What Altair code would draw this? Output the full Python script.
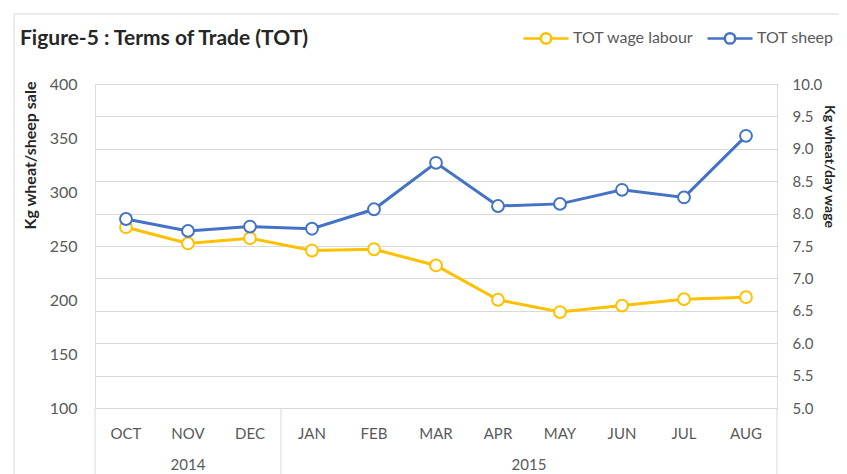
import altair as alt
import pandas as pd
import math

# ---- data ----
months = ["OCT", "NOV", "DEC", "JAN", "FEB", "MAR", "APR", "MAY", "JUN", "JUL", "AUG"]
years = ["2014", "2014", "2014", "2015", "2015", "2015", "2015", "2015", "2015", "2015", "2015"]
sheep_values = [275, 264, 268, 266, 284, 327, 287, 289, 302, 295, 352]
wage_values = [7.79, 7.54, 7.62, 7.43, 7.45, 7.20, 6.67, 6.48, 6.58, 6.68, 6.71]
series_names = ["TOT wage labour", "TOT sheep"]
series_colors = ["#FFC000", "#4472C4"]
left_ticks = [100, 150, 200, 250, 300, 350, 400]
right_ticks = [5.0, 5.5, 6.0, 6.5, 7.0, 7.5, 8.0, 8.5, 9.0, 9.5, 10.0]
title_text = "Figure-5 : Terms of Trade (TOT)"

W, H = 682, 324
FONT = "Lato"
GRID = "#d9d9d9"
LABEL = "#595959"

sheep_df = pd.DataFrame({"month": months, "value": sheep_values, "series": series_names[1]})
wage_df = pd.DataFrame({"month": months, "value": wage_values, "series": series_names[0]})

x_axis = alt.Axis(title=None, labelAngle=0, ticks=False, domain=True, domainColor=GRID,
                  domainWidth=1, labelPadding=18, labelFontSize=15, labelColor=LABEL,
                  labelFont=FONT, grid=False)
x_scale = alt.Scale(domain=months, paddingInner=0, paddingOuter=0)


def xenc(bp=None):
    if bp is None:
        return alt.X("month:N", sort=months, scale=x_scale, axis=x_axis)
    return alt.X("month:N", sort=months, scale=x_scale, axis=x_axis, bandPosition=bp)


LEG_PATH = "M-1,0L-0.23,0M0.23,0L1,0M-0.23,0A0.23,0.23,0,1,1,0.23,0A0.23,0.23,0,1,1,-0.23,0"
color = alt.Color("series:N", scale=alt.Scale(domain=series_names, range=series_colors),
                  legend=alt.Legend(title=None, orient="none", legendX=427, legendY=-70,
                                    direction="horizontal", symbolType=LEG_PATH, symbolSize=2025,
                                    symbolStrokeWidth=2.5, labelFontSize=16, labelColor=LABEL,
                                    labelFont=FONT, labelOffset=3, columnPadding=8,
                                    symbolFillColor="white"))

left_y = alt.Y("value:Q", scale=alt.Scale(domain=[100, 400], nice=False, zero=False),
               axis=alt.Axis(orient="left", values=left_ticks, grid=False, domain=False, ticks=False,
                             labelPadding=18, labelFontSize=16, labelColor=LABEL, labelFont=FONT,
                             title="Kg wheat/sheep sale", titleFontSize=16, titleFont=FONT,
                             titleFontWeight="bold", titleColor="#262626", titleX=-65, titleY=71,
                             titleAngle=270, titleAlign="center", titleBaseline="middle"))
right_y = alt.Y("value:Q", scale=alt.Scale(domain=[5, 10], nice=False, zero=False),
                axis=alt.Axis(orient="right", values=right_ticks, format=".1f", grid=True,
                              gridColor=GRID, gridWidth=1, domain=False, ticks=False,
                              labelPadding=15, labelFontSize=15, labelColor=LABEL, labelFont=FONT,
                              title="Kg wheat/day wage", titleFontSize=14, titleFont=FONT,
                              titleFontWeight="bold", titleColor="#262626", titleX=51, titleY=82,
                              titleAngle=90, titleAlign="center", titleBaseline="middle"))


def series_layer(df, y):
    base = alt.Chart(df)
    line = base.mark_line(strokeWidth=3).encode(x=xenc(), y=y, color=color)
    pts = base.mark_point(shape="circle", filled=False, fill="white", size=140, strokeWidth=2,
                          opacity=1).encode(x=xenc(), y=y, color=color)
    return alt.layer(line, pts)


wage_layer = series_layer(wage_df, right_y)
sheep_layer = series_layer(sheep_df, left_y)

# category box separators (group boundaries)
group_edges = []
for i, m in enumerate(months):
    if i == 0 or years[i] != years[i - 1]:
        group_edges.append({"month": m, "bp": 0.0})
group_edges.append({"month": months[-1], "bp": 1.0})

sep_layers = []
for e in group_edges:
    sep_layers.append(
        alt.Chart(pd.DataFrame([{"month": e["month"]}])).mark_rule(color=GRID, strokeWidth=1).encode(
            x=xenc(e["bp"]), y=alt.value(H), y2=alt.value(H + 70)))

# year labels centred on their month group
year_layers = []
for yv in sorted(set(years)):
    idx = [i for i, v in enumerate(years) if v == yv]
    c = (idx[0] + idx[-1]) / 2
    fi = math.floor(c)
    bp = c - fi + 0.5
    year_layers.append(
        alt.Chart(pd.DataFrame([{"month": months[fi], "year": yv}])).mark_text(
            font=FONT, fontSize=15, color=LABEL, baseline="middle", align="center").encode(
            x=xenc(bp), y=alt.value(H + 57), text="year:N"))

title_layer = alt.Chart(pd.DataFrame([{"t": title_text}])).mark_text(
    font=FONT, fontSize=21, fontWeight="bold", color="#262626", align="left", baseline="middle").encode(
    x=alt.value(-75), y=alt.value(-45), text="t:N")

frame_top = alt.Chart(pd.DataFrame([{"a": 0}])).mark_rule(color=GRID, strokeWidth=1).encode(
    x=alt.value(-81), x2=alt.value(W + 80), y=alt.value(-70))
frame_left = alt.Chart(pd.DataFrame([{"a": 0}])).mark_rule(color=GRID, strokeWidth=1).encode(
    x=alt.value(-81), y=alt.value(-70), y2=alt.value(H + 80))

chart = alt.layer(
    wage_layer, sheep_layer, *sep_layers, *year_layers, title_layer, frame_top, frame_left
).resolve_scale(y="independent").properties(
    width=W, height=H,
    autosize=alt.AutoSizeParams(type="none"),
    padding={"left": 87, "top": 76, "right": 62, "bottom": 66},
).configure_view(stroke=None).configure(background="white")

chart.save("out.html", embed_options={"renderer": "svg", "actions": False})
